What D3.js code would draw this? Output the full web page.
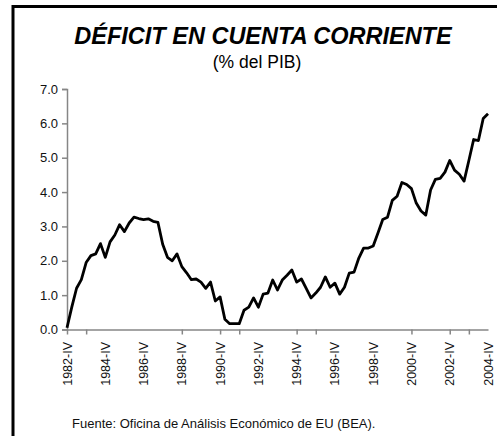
<!DOCTYPE html>
<html>
<head>
<meta charset="utf-8">
<script src="https://cdn.jsdelivr.net/npm/d3@7"></script>
<style>
  body { margin: 0; background: #fff; }
  text { font-family: "Liberation Sans", Arial, sans-serif; }
</style>
</head>
<body>
<div id="chart"></div>
<script>
// quarters 1982-IV .. 2004-IV
var roman = ["I", "II", "III", "IV"];
var quarters = ["1982-IV"];
for (var y = 1983; y <= 2004; y++) {
  for (var q = 0; q < 4; q++) quarters.push(y + "-" + roman[q]);
}

// current account deficit, % of GDP
var deficit = [
  0.05, 0.65, 1.2, 1.45, 1.95, 2.15, 2.2, 2.5, 2.1, 2.55,
  2.75, 3.05, 2.85, 3.1, 3.27, 3.23, 3.2, 3.22, 3.15, 3.12,
  2.48, 2.1, 2.0, 2.2, 1.83, 1.65, 1.45, 1.47, 1.38, 1.2,
  1.38, 0.83, 0.95, 0.3, 0.17, 0.17, 0.17, 0.56, 0.65, 0.92,
  0.65, 1.03, 1.06, 1.44, 1.15, 1.44, 1.58, 1.73, 1.38, 1.47,
  1.2, 0.92, 1.06, 1.23, 1.53, 1.23, 1.35, 1.03, 1.23, 1.64,
  1.67, 2.08, 2.37, 2.37, 2.43, 2.81, 3.2, 3.27, 3.76, 3.88,
  4.28, 4.22, 4.1, 3.68, 3.45, 3.33, 4.06, 4.37, 4.4, 4.58,
  4.92, 4.64, 4.52, 4.32, 4.92, 5.53, 5.5, 6.14, 6.28
];

var yTicks = [0, 1, 2, 3, 4, 5, 6, 7];
// labels every 8 quarters
var xLabels = ["1982-IV", "1984-IV", "1986-IV", "1988-IV", "1990-IV", "1992-IV",
               "1994-IV", "1996-IV", "1998-IV", "2000-IV", "2002-IV", "2004-IV"];
// tick marks visible on the axis
var xTickMarks = ["1982-IV", "1983-IV", "1988-IV", "1990-IV", "1991-IV",
                  "1994-IV", "1995-IV", "2000-IV", "2002-IV", "2003-IV"];

var width = 497, height = 436;
var axisColor = "#868686";

var svg = d3.select("#chart").append("svg")
    .attr("width", width)
    .attr("height", height);

// frame (top + left edges)
svg.append("path")
    .attr("d", "M13,436 L13,6.5 L497,6.5")
    .attr("fill", "none")
    .attr("stroke", "#000")
    .attr("stroke-width", 3);

// titles
svg.append("text")
    .attr("x", 263).attr("y", 44)
    .attr("text-anchor", "middle")
    .style("font-size", "23.5px")
    .style("font-weight", "bold")
    .style("font-style", "italic")
    .text("DÉFICIT EN CUENTA CORRIENTE");

svg.append("text")
    .attr("x", 257).attr("y", 68)
    .attr("text-anchor", "middle")
    .style("font-size", "17.5px")
    .text("(% del PIB)");

var x = d3.scalePoint()
    .domain(quarters)
    .range([67, 488]);

var yScale = d3.scaleLinear()
    .domain([0, 7])
    .range([329.5, 89]);

// y axis
var yAxis = svg.append("g")
    .attr("transform", "translate(67,0)")
    .call(d3.axisLeft(yScale)
        .tickValues(yTicks)
        .tickSize(5)
        .tickPadding(4)
        .tickFormat(d3.format(".1f")));
yAxis.select(".domain").attr("stroke", axisColor).attr("stroke-width", 1.5);
yAxis.selectAll(".tick line").attr("stroke", axisColor).attr("stroke-width", 1.5);
yAxis.selectAll(".tick text")
    .attr("fill", "#111")
    .style("font-size", "13px")
    .style("font-family", "'Liberation Sans', Arial, sans-serif");

// x axis line + tick marks
var xAxis = svg.append("g")
    .attr("transform", "translate(0,329.5)")
    .call(d3.axisBottom(x)
        .tickValues(xTickMarks)
        .tickSize(5)
        .tickSizeOuter(0)
        .tickFormat(""));
xAxis.select(".domain").attr("stroke", axisColor).attr("stroke-width", 1.5);
xAxis.selectAll(".tick line").attr("stroke", axisColor).attr("stroke-width", 1.5);

// rotated category labels
svg.append("g")
    .selectAll("text")
    .data(xLabels)
    .enter()
    .append("text")
    .attr("transform", function(d) {
        return "translate(" + (x(d) + 4.5) + ",342) rotate(-90)";
    })
    .attr("text-anchor", "end")
    .attr("fill", "#111")
    .style("font-size", "12.5px")
    .text(function(d) { return d; });

// the line
var line = d3.line()
    .x(function(d, i) { return x(quarters[i]); })
    .y(function(d) { return yScale(d); });

svg.append("path")
    .datum(deficit)
    .attr("d", line)
    .attr("fill", "none")
    .attr("stroke", "#000")
    .attr("stroke-width", 2.8)
    .attr("stroke-linejoin", "round");

// source
svg.append("text")
    .attr("x", 72).attr("y", 428)
    .style("font-size", "13px")
    .attr("fill", "#111")
    .text("Fuente: Oficina de Análisis Económico de EU (BEA).");
</script>
</body>
</html>
